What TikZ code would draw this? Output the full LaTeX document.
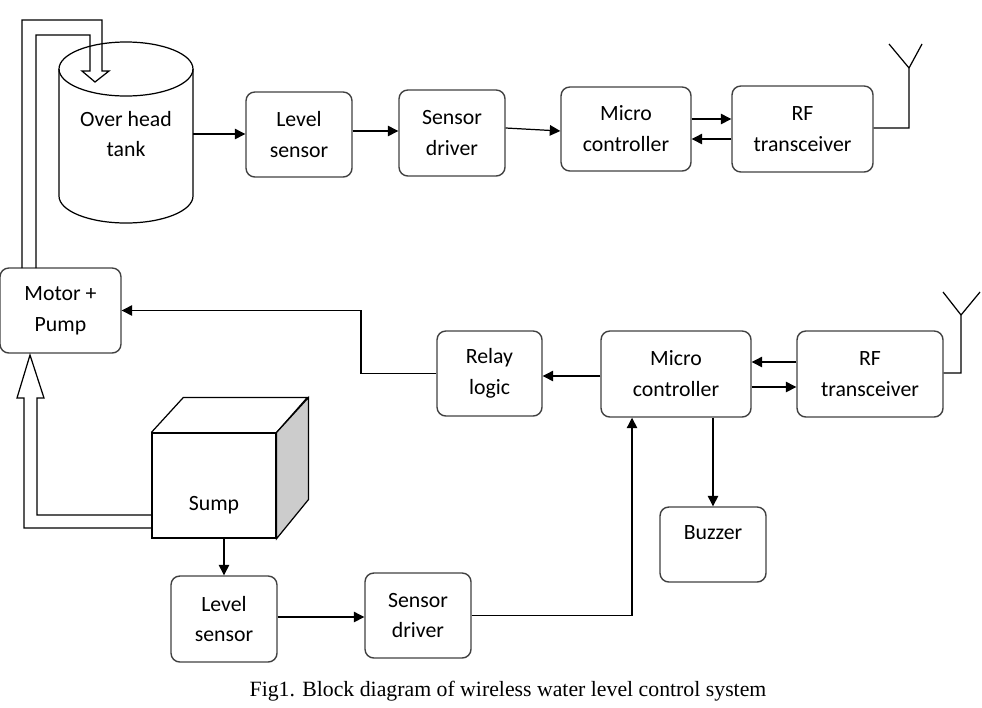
\documentclass[tikz,border=0pt]{standalone}
\usepackage{fontspec}
\setmainfont{Carlito}
\newfontfamily\capfont{Liberation Serif}
\usetikzlibrary{arrows.meta,positioning,calc}
\definecolor{edge}{HTML}{404040}
\definecolor{shade}{HTML}{CCCCCC}

\begin{document}
\begin{tikzpicture}[x=0.02cm,y=-0.02cm,
    font=\fontsize{12.4}{17.6}\selectfont,
    box/.style={draw=edge,line width=0.8pt,rounded corners=5pt,align=center,
      minimum width=2.12cm,minimum height=1.7cm,inner sep=0pt},
    arr/.style={line width=0.7pt,-{Triangle[length=6pt,width=6pt]}},
    wire/.style={line width=0.7pt},
    pipe/.style={line width=0.7pt,line join=miter}]
  \useasboundingbox (0,0) rectangle (982,707);

  % Over head tank
  \draw[pipe] (59,69) -- (59,196) arc[start angle=180,end angle=360,x radius=67,y radius=-27]
    -- (193,69);
  \draw[pipe] (126,69) ellipse[x radius=67,y radius=27];
  \node[align=center,minimum width=2.68cm,inner sep=0pt] (tank) at (126,134) {Over head\\tank};

  % Top row
  \node[box] (lvl1) at (299,134.5) {Level\\sensor};
  \node[box,minimum height=1.72cm] (drv1) at (452,133) {Sensor\\driver};
  \node[box,minimum width=2.6cm,minimum height=1.68cm] (mc1) at (626,129) {Micro\\controller};
  \node[box,minimum width=2.82cm,minimum height=1.72cm] (rf1) at (802.5,129) {RF\\transceiver};

  \draw[arr] (tank.east) -- (lvl1.west |- tank.east);
  \draw[arr] (lvl1.east |- 0,131) -- (drv1.west |- 0,131);
  \draw[arr] (drv1.east |- 0,128) -- (mc1.west |- 0,131);
  \draw[arr] (mc1.east |- 0,119) -- (rf1.west |- 0,119);
  \draw[arr] (rf1.west |- 0,139) -- (mc1.east |- 0,139);

  % Antenna (top)
  \coordinate (ant1) at (909,68);
  \draw[wire] (rf1.east |- 0,128) -| (ant1) -- (889,44);
  \draw[wire] (ant1) -- (922,44);

  % Motor + pump and pipe into the tank
  \node[box,minimum width=2.42cm] (motor) at (60.5,310.5) {Motor +\\Pump};
  \draw[pipe] (22,268) -- (22,20) -- (102,20) -- (102,71) -- (109,71) -- (95,82)
    -- (82,71) -- (90,71) -- (90,35) -- (36,35) -- (36,268);

  % Sump
  \node[draw,line width=0.7pt,minimum width=2.48cm,minimum height=2.1cm,inner sep=0pt]
    (sump) at (214,485.5) {};
  \draw[pipe] (sump.north west) -- ++(32,-35) -- ++(124,0) -- (sump.north east);
  \draw[pipe,fill=shade] (sump.north east) -- ++(32,-35) -- ++(0,102) -- (sump.south east) -- cycle;
  \node (sumptxt) at (214,505) {Sump};

  % Pipe from sump to pump
  \draw[pipe] (sump.west |- 0,528) -- (24,528) -- (24,398) -- (17,398) -- (30,355)
    -- (44,398) -- (37,398) -- (37,515) -- (sump.west |- 0,515);

  % Bottom row
  \node[box,minimum height=1.72cm] (lvl2) at (224,619) {Level\\sensor};
  \node[box] (drv2) at (418,615.5) {Sensor\\driver};
  \node[box,minimum width=2.1cm] (relay) at (489.5,373.5) {Relay\\logic};
  \node[box,minimum width=3cm,minimum height=1.72cm] (mc2) at (676,374) {Micro\\controller};
  \node[box,minimum width=2.92cm,minimum height=1.72cm] (rf2) at (870,374) {RF\\transceiver};
  \node[box,minimum height=1.5cm] (buzzer) at (713,544.5) {};
  \node (buzzertxt) at (713,533) {Buzzer};

  \draw[arr] (sump.south -| lvl2.north) -- (lvl2.north);
  \draw[arr] (lvl2.east |- 0,617) -- (drv2.west |- 0,617);
  \draw[arr] (drv2.east) -| ([xshift=-0.88cm]mc2.south);
  \draw[arr] (mc2.west |- 0,376) -- (relay.east |- 0,376);
  \draw[arr] (relay.west) -| (361,310.5) -- (motor.east);
  \draw[arr] (rf2.west |- 0,362) -- (mc2.east |- 0,362);
  \draw[arr] (mc2.east |- 0,387) -- (rf2.west |- 0,387);
  \draw[arr] (mc2.south -| buzzer.north) -- (buzzer.north);

  % Antenna (bottom)
  \coordinate (ant2) at (961,315);
  \draw[wire] (rf2.east |- 0,373) -| (ant2) -- (943,292);
  \draw[wire] (ant2) -- (980,292);

  % Caption
  \node[font=\capfont\fontsize{12.4}{14}\selectfont] (caption) at (508,691)
    {Fig1. Block diagram of wireless water level control system};
\end{tikzpicture}
\end{document}
